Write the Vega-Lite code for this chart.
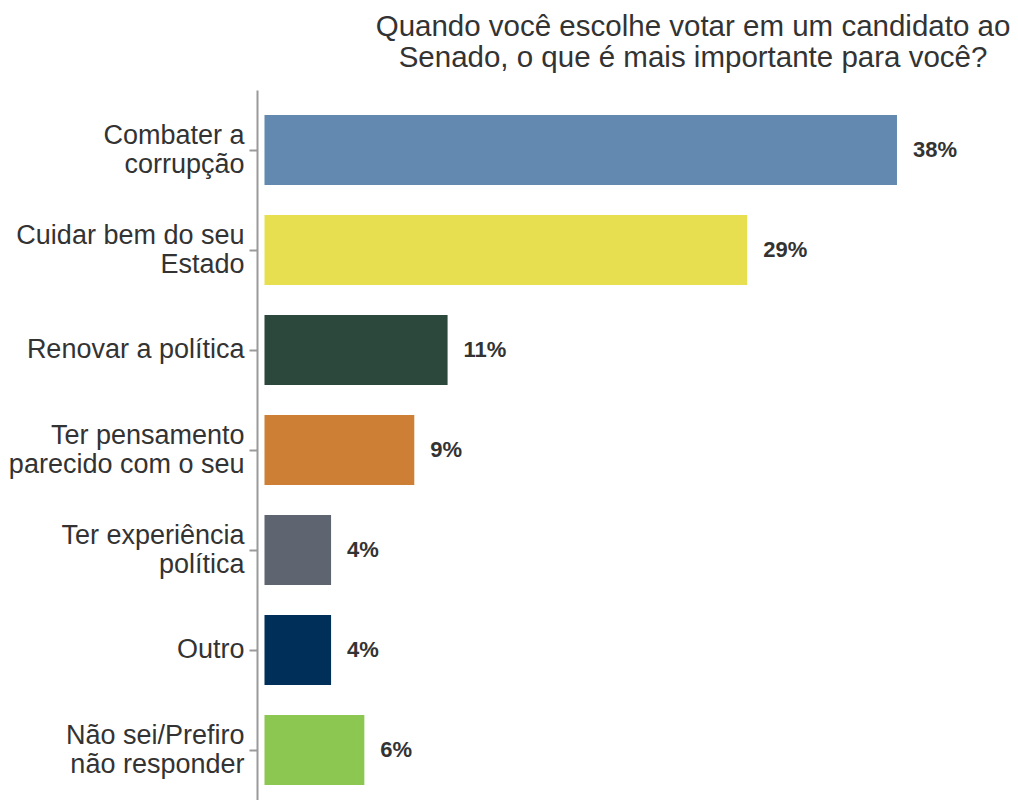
{
  "$schema": "https://vega.github.io/schema/vega-lite/v6.json",
  "width": 752,
  "height": 720,
  "autosize": {"type": "none"},
  "padding": {"left": 257, "top": 90, "right": 9, "bottom": 0},
  "background": "white",
  "config": {"view": {"stroke": null}},
  "title": {
    "text": ["Quando você escolhe votar em um candidato ao", "Senado, o que é mais importante para você?"],
    "font": "Liberation Sans",
    "fontSize": 29.5,
    "fontWeight": "normal",
    "color": "#333333",
    "lineHeight": 31,
    "anchor": "middle",
    "dx": 60,
    "offset": 17
  },
  "data": {
    "values": [
      {"categoria": "Combater a\ncorrupção", "pct": 38, "rotulo": "38%"},
      {"categoria": "Cuidar bem do seu\nEstado", "pct": 29, "rotulo": "29%"},
      {"categoria": "Renovar a política", "pct": 11, "rotulo": "11%"},
      {"categoria": "Ter pensamento\nparecido com o seu", "pct": 9, "rotulo": "9%"},
      {"categoria": "Ter experiência\npolítica", "pct": 4, "rotulo": "4%"},
      {"categoria": "Outro", "pct": 4, "rotulo": "4%"},
      {"categoria": "Não sei/Prefiro\nnão responder", "pct": 6, "rotulo": "6%"}
    ]
  },
  "encoding": {
    "y": {
      "field": "categoria",
      "type": "nominal",
      "sort": null,
      "scale": {"paddingInner": 0.3, "paddingOuter": 0.25},
      "axis": {
        "title": null,
        "labelExpr": "split(datum.label, '\\n')",
        "labelOffset": {"condition": {"test": "indexof(datum.label, '\\n') >= 0", "value": -14.5}, "value": 0},
        "labelFont": "Liberation Sans",
        "labelFontSize": 27,
        "labelColor": "#333333",
        "labelLineHeight": 29,
        "labelPadding": 5,
        "labelLimit": 0,
        "domainColor": "#9a9a9a",
        "domainWidth": 2,
        "tickColor": "#9a9a9a",
        "tickWidth": 2,
        "tickSize": 8
      }
    },
    "x": {
      "field": "pct",
      "type": "quantitative",
      "scale": {"domain": [-0.45, 44.73], "nice": false, "zero": false},
      "axis": null
    }
  },
  "layer": [
    {
      "mark": {"type": "bar"},
      "encoding": {
        "color": {
          "field": "categoria",
          "type": "nominal",
          "sort": null,
          "scale": {"range": ["#6389B0", "#E8DF50", "#2C473C", "#CD8035", "#5E6570", "#00305A", "#8BC751"]},
          "legend": null
        }
      }
    },
    {
      "mark": {
        "type": "text",
        "align": "left",
        "baseline": "middle",
        "dx": 16,
        "font": "Liberation Sans",
        "fontSize": 22,
        "fontWeight": "bold",
        "color": "#333333"
      },
      "encoding": {"text": {"field": "rotulo"}}
    }
  ]
}
